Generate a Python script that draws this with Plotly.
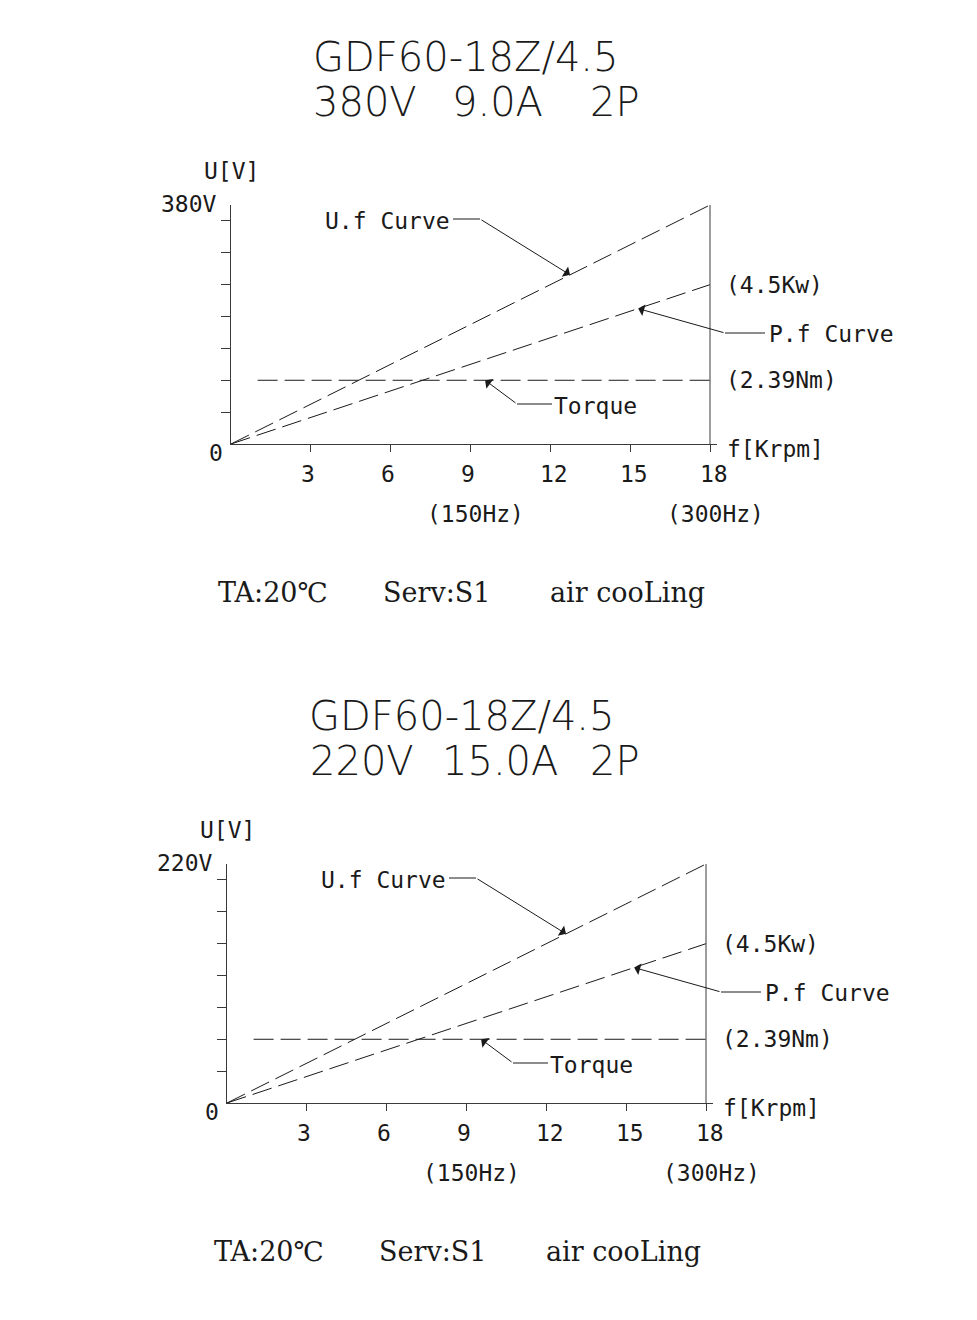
import numpy as np
import plotly.graph_objects as go

# ---------------------------------------------------------------- data
model = "GDF60-18Z/4.5"
freq_krpm = [0, 18]                 # speed axis end points (krpm)
uf_380 = [0, 380]                   # U.f curve, 380 V winding (V)
uf_220 = [0, 220]                   # U.f curve, 220 V winding (V)
pf_kw = [0, 4.5]                    # P.f curve (kW)
torque_freq = [1, 18]               # constant-torque span (krpm)
torque_nm = [2.39, 2.39]            # rated torque (Nm)

x_ticks = [3, 6, 9, 12, 15, 18]
x_tick_text = ["3", "6", "9", "12", "15", "18"]
hz_ticks = [9, 18]
hz_text = ["(150Hz)", "(300Hz)"]
y_divisions = 7.5                   # axis height in tick divisions
pf_divisions = 5                    # P.f end point height in divisions
torque_divisions = 2                # torque line height in divisions

ratings = [
    dict(volts=uf_380, vlabel="380V", row2=[("380V", 311), ("9.0A", 450), ("2P", 588)]),
    dict(volts=uf_220, vlabel="220V", row2=[("220V", 308), ("15.0A", 440), ("2P", 588)]),
]
footer = [("TA:20℃", -15), ("Serv:S1", 150), ("air cooLing", 317)]

# ---------------------------------------------------------------- layout helpers
W, H = 977, 1320
UNIT = 479 / 18        # px per krpm
AX_H = 239             # px from 0 V to full voltage
X_MAX = 18.25
origins = [(231, 444), (227, 1103)]

INK = "#1a1a1a"
AXC = "#3a3a3a"
CAD = "DejaVu Sans Mono"
TITLE = "DejaVu Sans"
SERIF = "DejaVu Serif"
DASH = "20px,7px"


def px(x):
    return x / W


def py(y):
    return 1 - y / H


fig = go.Figure()
layout = {}
shapes = []
annotations = []

for i, (rating, (ox, oy)) in enumerate(zip(ratings, origins)):
    xa = "x" if i == 0 else f"x{i + 1}"
    yv, yp, yt = [f"y{3 * i + k}" if 3 * i + k > 1 else "y" for k in (1, 2, 3)]
    vmax = rating["volts"][-1]
    kw_max = pf_kw[-1] * y_divisions / pf_divisions
    nm_max = torque_nm[0] * y_divisions / torque_divisions

    line = dict(color=INK, width=1, dash=DASH)
    fig.add_trace(go.Scatter(x=freq_krpm, y=rating["volts"], mode="lines", line=line,
                             xaxis=xa, yaxis=yv, hoverinfo="skip", showlegend=False))
    fig.add_trace(go.Scatter(x=freq_krpm, y=pf_kw, mode="lines", line=line,
                             xaxis=xa, yaxis=yp, hoverinfo="skip", showlegend=False))
    fig.add_trace(go.Scatter(x=torque_freq, y=torque_nm, mode="lines", line=line,
                             xaxis=xa, yaxis=yt, hoverinfo="skip", showlegend=False))

    xdom = [px(ox), px(ox + X_MAX * UNIT)]
    ydom = [py(oy), py(oy - AX_H)]
    xkey = "xaxis" if i == 0 else f"xaxis{i + 1}"
    layout[xkey] = dict(domain=xdom, range=[0, X_MAX], anchor=yv, showline=True,
                        linecolor=AXC, linewidth=1, ticks="outside", ticklen=7,
                        tickcolor=AXC, tickwidth=1, tickvals=x_ticks,
                        showticklabels=False, showgrid=False, zeroline=False,
                        fixedrange=True)
    yticks = [vmax * k / y_divisions for k in range(1, 8)]
    layout["yaxis" if yv == "y" else "yaxis" + yv[1:]] = dict(
        domain=ydom, range=[0, vmax], anchor=xa, showline=True, linecolor=AXC,
        linewidth=1, ticks="outside", ticklen=9, tickcolor=AXC, tickwidth=1,
        tickvals=yticks, showticklabels=False, showgrid=False, zeroline=False,
        fixedrange=True)
    layout["yaxis" + yp[1:]] = dict(domain=ydom, range=[0, kw_max], overlaying=yv,
                                    anchor=xa, visible=False, fixedrange=True)
    layout["yaxis" + yt[1:]] = dict(domain=ydom, range=[0, nm_max], overlaying=yv,
                                    anchor=xa, visible=False, fixedrange=True)

    # right-hand limit line at 18 krpm
    shapes.append(dict(type="line", xref=xa, yref=yv, x0=18, x1=18, y0=0, y1=vmax,
                       line=dict(color=AXC, width=1)))

    def txt(text, x, y, size=23, anchor="left", font=CAD, weight=None):
        f = dict(family=font, size=size, color=INK)
        if weight:
            f["weight"] = weight
        annotations.append(dict(text=text, x=px(x), y=py(y), xref="paper", yref="paper",
                                xanchor=anchor, yanchor="middle", showarrow=False, font=f))

    # titles
    txt(model, ox + 80, oy - 387, size=40, font=TITLE, weight=200)
    for text, left in rating["row2"]:
        txt(text, left, oy - 342, size=40, font=TITLE, weight=200)

    # axis labels
    txt("U[V]", ox - 29, oy - 273)
    txt(rating["vlabel"], ox - 12, oy - 240, anchor="right")
    txt("0", ox - 6, oy + 9, anchor="right")
    txt("f[Krpm]", ox + 494, oy + 5)
    for t, lab in zip(x_ticks, x_tick_text):
        annotations.append(dict(text=lab, x=t, y=0, xref=xa, yref=yv, xanchor="left",
                                yanchor="middle", xshift=-12, yshift=-30, showarrow=False,
                                font=dict(family=CAD, size=23, color=INK)))
    for t, lab in zip(hz_ticks, hz_text):
        annotations.append(dict(text=lab, x=t, y=0, xref=xa, yref=yv, xanchor="center",
                                yanchor="middle", xshift=5, yshift=-70, showarrow=False,
                                font=dict(family=CAD, size=23, color=INK)))

    # end-point values
    annotations.append(dict(text="(4.5Kw)", x=freq_krpm[-1], y=pf_kw[-1], xref=xa, yref=yp,
                            xanchor="left", yanchor="middle", xshift=14, showarrow=False,
                            font=dict(family=CAD, size=23, color=INK)))
    annotations.append(dict(text="(2.39Nm)", x=torque_freq[-1], y=torque_nm[-1], xref=xa,
                            yref=yt, xanchor="left", yanchor="middle", xshift=14,
                            showarrow=False, font=dict(family=CAD, size=23, color=INK)))

    # curve call-outs: text, elbow segment, arrow to the curve
    callouts = [
        ("U.f Curve", (92, -223), (222, 249, -225), 249, 12.74, freq_krpm, rating["volts"], yv, vmax),
        ("P.f Curve", (536, -110), (494, 534, -111), 494, 15.3, freq_krpm, pf_kw, yp, kw_max),
        ("Torque", (321, -38), (286, 321, -40), 286, 9.55, torque_freq, torque_nm, yt, nm_max),
    ]
    for label, (tx, ty), (hx0, hx1, hy), elbow, tip_x, xs, ys, yref, ymax in callouts:
        txt(label, ox + tx, oy + ty)
        shapes.append(dict(type="line", xref="paper", yref="paper",
                           x0=px(ox + hx0), x1=px(ox + hx1), y0=py(oy + hy), y1=py(oy + hy),
                           line=dict(color=INK, width=1)))
        tip_y = float(np.interp(tip_x, xs, ys))
        tip_px = ox + tip_x * UNIT
        tip_py = oy - tip_y / ymax * AX_H
        annotations.append(dict(text="", x=tip_x, y=tip_y, xref=xa, yref=yref,
                                showarrow=True, arrowhead=1, arrowsize=2, arrowwidth=1,
                                arrowcolor=INK, standoff=0,
                                ax=ox + elbow - tip_px, ay=oy + hy - tip_py))

    # operating conditions
    for text, dx in footer:
        txt(text, ox + dx, oy + 148, size=27, font=SERIF)

fig.update_layout(
    width=W, height=H, margin=dict(l=0, r=0, t=0, b=0),
    paper_bgcolor="white", plot_bgcolor="white",
    showlegend=False, shapes=shapes, annotations=annotations, **layout,
)

fig.write_html("out.html", config=dict(displayModeBar=False))
